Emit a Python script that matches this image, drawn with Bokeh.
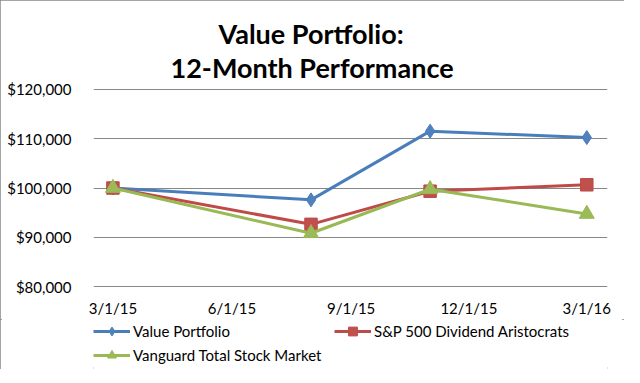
import pandas as pd
from bokeh.plotting import figure
from bokeh.layouts import column
from bokeh.models import (Range1d, FixedTicker, NumeralTickFormatter, CustomJSTickFormatter,
                          Title, Legend, LegendItem, ColumnDataSource)
from bokeh.embed import file_html
from bokeh.resources import INLINE

# ---- data ----
dates = ["2015-03-01", "2015-08-01", "2015-11-01", "2016-03-01"]
value_portfolio = [100000, 97600, 111500, 110200]
sp500_aristocrats = [100000, 92650, 99350, 100650]
vanguard_total = [100000, 90850, 99750, 94750]
series_names = ["Value Portfolio", "S&P 500 Dividend Aristocrats", "Vanguard Total Stock Market"]
x_tick_dates = ["2015-03-01", "2015-06-01", "2015-09-01", "2015-12-01", "2016-03-01"]
y_ticks = [80000, 90000, 100000, 110000, 120000]
title_lines = ["Value Portfolio:", "12-Month Performance"]

x = pd.to_datetime(dates)
FONT = "Lato"
COLORS = [("#4A7EBB", "#4F81BD"), ("#BE4B48", "#C0504D"), ("#98B954", "#9BBB59")]
MARKERS = [("diamond", 14), ("square", 12.5), ("triangle", 15)]
COLS = ["vp", "sp", "vg"]

src = ColumnDataSource(dict(x=x, vp=value_portfolio, sp=sp500_aristocrats, vg=vanguard_total))

p = figure(frame_width=514, frame_height=199, output_backend="svg", toolbar_location=None,
           x_axis_type="datetime",
           x_range=Range1d(pd.Timestamp("2015-02-14"), pd.Timestamp("2016-03-17")),
           y_range=Range1d(79880, 120120),
           min_border_left=93, min_border_right=17, min_border_top=88, min_border_bottom=30)
p.outline_line_color = None
p.background_fill_color = "white"
p.border_fill_color = "white"
p.title.visible = False

# axes
p.xaxis.ticker = FixedTicker(ticks=[pd.Timestamp(d).value / 1e6 for d in x_tick_dates])
p.xaxis.formatter = CustomJSTickFormatter(code="""
const d = new Date(tick);
return (d.getUTCMonth()+1) + "/" + d.getUTCDate() + "/" + String(d.getUTCFullYear()).slice(2);
""")
p.yaxis.ticker = FixedTicker(ticks=y_ticks)
p.yaxis.formatter = NumeralTickFormatter(format="$0,0")
for ax in (p.xaxis[0], p.yaxis[0]):
    ax.axis_line_color = None
    ax.major_tick_line_color = None
    ax.minor_tick_line_color = None
    ax.major_tick_out = 0
    ax.major_tick_in = 0
    ax.major_label_text_font = FONT
    ax.major_label_text_font_size = "15px"
    ax.major_label_text_color = "black"
p.yaxis.major_label_standoff = 22
p.xaxis.major_label_standoff = 11
p.xgrid.grid_line_color = None
p.ygrid.ticker = FixedTicker(ticks=y_ticks)
p.ygrid.grid_line_color = "#878787"
p.ygrid.grid_line_width = 1


def draw_series(fig):
    out = []
    for col, (lc, fc), (mk, sz) in zip(COLS, COLORS, MARKERS):
        lr = fig.line("x", col, source=src, line_color=lc, line_width=3)
        mr = fig.scatter("x", col, source=src, marker=mk, size=sz, fill_color=fc, line_color=lc)
        out.append([lr, mr])
    return out

draw_series(p)

# title (two centred lines)
p.add_layout(Title(text=title_lines[1], align="left", offset=77, standoff=9,
                   text_font=FONT, text_font_style="bold", text_font_size="27px",
                   text_color="black"), "above")
p.add_layout(Title(text=title_lines[0], align="left", offset=125, standoff=-11,
                   text_font=FONT, text_font_style="bold", text_font_size="27px",
                   text_color="black"), "above")

# legend strip below the chart (same series, data lies outside this strip's ranges)
pl = figure(width=624, height=50, output_backend="svg", toolbar_location=None,
            x_range=Range1d(0, 1), y_range=Range1d(0, 1), min_border=0,
            x_axis_location=None, y_axis_location=None)
pl.outline_line_color = None
pl.grid.visible = False
pl.title.visible = False
rends = draw_series(pl)

legend = Legend(items=[LegendItem(label=n, renderers=r) for n, r in zip(series_names, rends)],
                orientation="horizontal", ncols=2, location=(0, 3),
                padding=0, margin=0, spacing=2, border_line_color=None,
                background_fill_alpha=0, glyph_width=37, glyph_height=22,
                label_standoff=3, label_width=199, label_height=22,
                label_text_font=FONT, label_text_font_size="15px",
                label_text_color="black")
pl.add_layout(legend, "center")

layout = column(p, pl, spacing=0)
layout.styles = {"outline": "2px solid #878787", "outline-offset": "-2px"}

open("out.html", "w").write(file_html(layout, INLINE))
